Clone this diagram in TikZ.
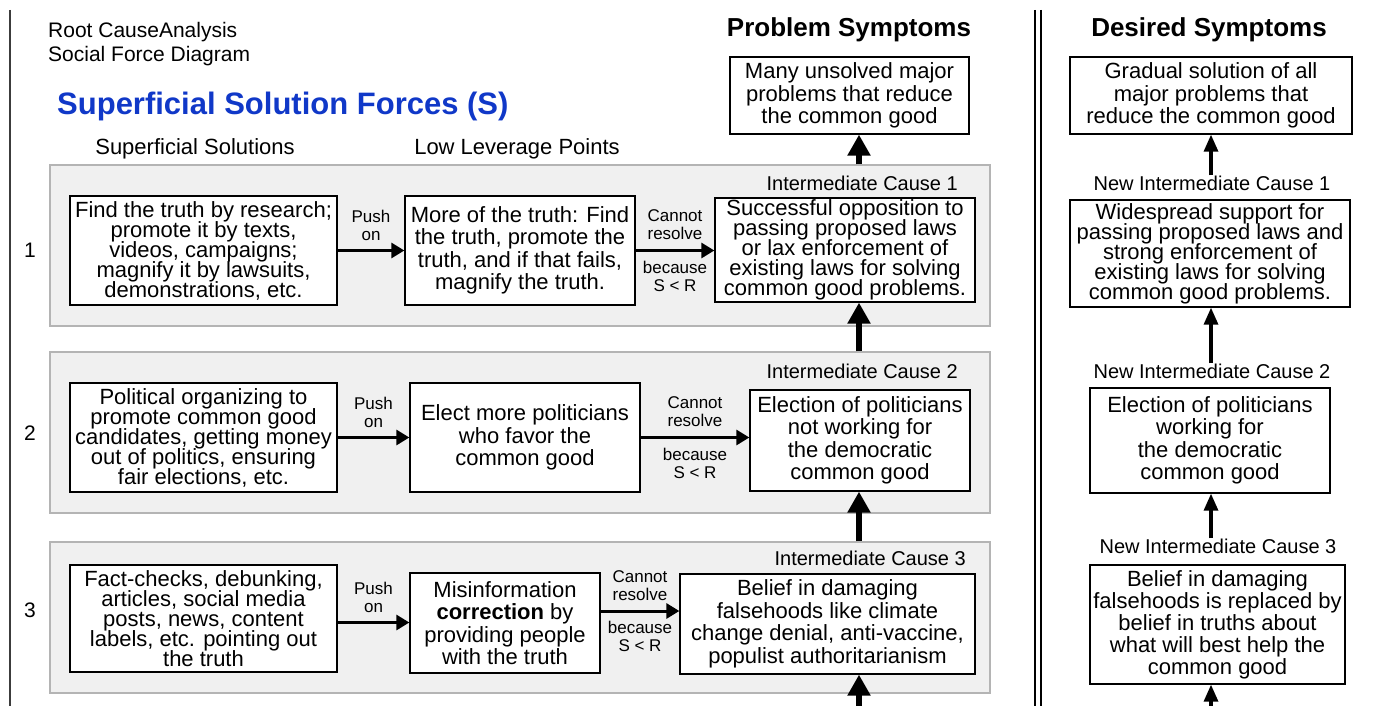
\documentclass[tikz,border=0pt]{standalone}
\usepackage{fontspec}
\setmainfont{Liberation Sans}
\usetikzlibrary{arrows.meta}
\definecolor{titleblue}{RGB}{16,56,200}
\definecolor{panelfill}{RGB}{240,240,240}
\definecolor{panelline}{RGB}{180,180,180}
\definecolor{rulegray}{RGB}{60,60,60}
\begin{document}
\lineskiplimit=-100pt
\begin{tikzpicture}[x=1pt,y=-1pt,
  box/.style={draw=black, line width=1.3pt, fill=white, align=center, inner sep=0pt,
    font=\fontsize{22}{20}\selectfont},
  airy/.style={box, font=\fontsize{22}{22.5}\selectfont},
  panel/.style={draw=panelline, line width=1.2pt, fill=panelfill, inner sep=0pt},
  lbl/.style={align=center, inner sep=1pt, font=\fontsize{17}{18}\selectfont},
  cause/.style={anchor=east, inner sep=0pt, font=\fontsize{20}{20}\selectfont},
  newcause/.style={inner sep=0pt, font=\fontsize{20}{20}\selectfont},
  rownum/.style={inner sep=0pt, font=\fontsize{21}{21}\selectfont},
  harrow/.style={line width=3pt, -{Triangle[length=13pt,width=15pt]}},
  karrow/.style={line width=6.5pt, -{Triangle[length=21pt,width=22pt]}},
  tarrow/.style={line width=3.2pt, -{Triangle[length=17pt,width=14pt]}},
]
\useasboundingbox (0,0) rectangle (1389,706);

% frame rules
\draw[rulegray, line width=2pt] (10,10) -- (10,706);
\draw[black, line width=2pt] (1035,10) -- (1035,706);
\draw[black, line width=2pt] (1041,10) -- (1041,706);

% headings
\node[anchor=west, inner sep=0pt, font=\fontsize{21}{21}\selectfont] (hd1) at (48,32.5) {Root CauseAnalysis};
\node[anchor=west, inner sep=0pt, font=\fontsize{21}{21}\selectfont] (hd2) at (48,56.5) {Social Force Diagram};
\node[anchor=west, inner sep=0pt, text=titleblue, font=\fontsize{31}{31}\selectfont\bfseries] (title) at (57,106) {Superficial Solution Forces (S)};
\node[inner sep=0pt, font=\fontsize{22}{22}\selectfont] (colss) at (195,149) {Superficial Solutions};
\node[inner sep=0pt, font=\fontsize{22}{22}\selectfont] (colll) at (517,149) {Low Leverage Points};
\node[inner sep=0pt, font=\fontsize{26}{26}\selectfont\bfseries] (colps) at (849,30) {Problem Symptoms};
\node[inner sep=0pt, font=\fontsize{26}{26}\selectfont\bfseries] (colds) at (1209,30) {Desired Symptoms};

% panels
\node[panel, minimum width=940pt, minimum height=161pt] (p1) at (520,245.5) {};
\node[panel, minimum width=940pt, minimum height=161pt] (p2) at (520,432.5) {};
\node[panel, minimum width=940pt, minimum height=151pt] (p3) at (520,617.5) {};

% row numbers
\node[rownum] (n1) at (30,250) {1};
\node[rownum] (n2) at (30,433) {2};
\node[rownum] (n3) at (30,610) {3};

% symptom boxes
\node[airy, minimum width=239pt, minimum height=77pt] (prob) at (849.5,95.5)
  {Many unsolved major\\problems that reduce\\the common good};
\node[airy, minimum width=282pt, minimum height=77pt] (des) at (1211,95.5)
  {Gradual solution of all\\major problems that\\reduce the common good};

% row 1
\node[box, minimum width=267pt, minimum height=109pt] (s1) at (203.5,250.5)
  {Find the truth by research;\\promote it by texts,\\videos, campaigns;\\magnify it by lawsuits,\\demonstrations, etc.};
\node[airy, minimum width=230pt, minimum height=109pt] (l1) at (520,250.5)
  {More of the truth: Find\\the truth, promote the\\truth, and if that fails,\\magnify the truth.};
\node[cause] (c1) at (958,183) {Intermediate Cause 1};
\node[box, minimum width=260pt, minimum height=104pt] (ic1) at (845,250)
  {Successful opposition to\\passing proposed laws\\or lax enforcement of\\existing laws for solving\\common good problems.};

% row 2
\node[box, minimum width=267pt, minimum height=109pt] (s2) at (203.5,437.5)
  {Political organizing to\\promote common good\\candidates, getting money\\out of politics, ensuring\\fair elections, etc.};
\node[airy, minimum width=230pt, minimum height=109pt] (l2) at (525,437.5)
  {Elect more politicians\\who favor the\\common good};
\node[cause] (c2) at (958,371) {Intermediate Cause 2};
\node[airy, minimum width=220pt, minimum height=101pt] (ic2) at (860,440.5)
  {Election of politicians\\not working for\\the democratic\\common good};

% row 3
\node[box, minimum width=267pt, minimum height=107pt] (s3) at (203.5,618.5)
  {Fact-checks, debunking,\\articles, social media\\posts, news, content\\labels, etc. pointing out\\the truth};
\node[airy, minimum width=190pt, minimum height=100pt] (l3) at (505,623)
  {Misinformation\\\textbf{correction} by\\providing people\\with the truth};
\node[cause] (c3) at (966,558) {Intermediate Cause 3};
\node[airy, minimum width=295pt, minimum height=100pt] (ic3) at (827.5,624)
  {Belief in damaging\\falsehoods like climate\\change denial, anti-vaccine,\\populist authoritarianism};

% desired column
\node[newcause] (nc1) at (1212,183) {New Intermediate Cause 1};
\node[box, minimum width=280pt, minimum height=107pt] (nic1) at (1210,253.5)
  {Widespread support for\\passing proposed laws and\\strong enforcement of\\existing laws for solving\\common good problems.};
\node[newcause] (nc2) at (1212,371) {New Intermediate Cause 2};
\node[airy, minimum width=240pt, minimum height=105pt] (nic2) at (1210,440.5)
  {Election of politicians\\working for\\the democratic\\common good};
\node[newcause] (nc3) at (1218,546) {New Intermediate Cause 3};
\node[box, font=\fontsize{22}{22}\selectfont, minimum width=255pt, minimum height=119pt] (nic3) at (1217.5,624.5)
  {Belief in damaging\\falsehoods is replaced by\\belief in truths about\\what will best help the\\common good};

% horizontal force arrows
\coordinate (r3a) at ([yshift=-4pt]s3.east);
\coordinate (r3b) at ([yshift=12pt]l3.east);
\draw[harrow] (s1.east) -- (l1.west)
  node[lbl, midway, above=7pt] {Push\\on};
\draw[harrow] (l1.east) -- (ic1.west |- l1.east)
  node[lbl, midway, above=8pt] {Cannot\\resolve}
  node[lbl, midway, below=8pt] {because\\S < R};
\draw[harrow] (s2.east) -- (l2.west)
  node[lbl, midway, above=7pt] {Push\\on};
\draw[harrow] (l2.east) -- (ic2.west |- l2.east)
  node[lbl, midway, above=8pt] {Cannot\\resolve}
  node[lbl, midway, below=8pt] {because\\S < R};
\draw[harrow] (r3a) -- (l3.west |- r3a)
  node[lbl, midway, above=7pt] {Push\\on};
\draw[harrow] (r3b) -- (ic3.west |- r3b)
  node[lbl, midway, above=8pt] {Cannot\\resolve}
  node[lbl, midway, below=8pt] {because\\S < R};

% vertical causal arrows (problem side)
\coordinate (col) at (859,0);
\coordinate (base) at (859,706);
\draw[karrow] (col |- p1.north) -- (col |- prob.south);
\draw[karrow] (col |- p2.north) -- (col |- ic1.south);
\draw[karrow] (col |- p3.north) -- (col |- ic2.south);
\draw[karrow] (base) -- (col |- ic3.south);

% vertical causal arrows (desired side)
\coordinate (dcol) at (1211,0);
\coordinate (dbase) at (1211,706);
\draw[tarrow] (dcol |- nc1.north) -- (dcol |- des.south);
\draw[tarrow] (dcol |- nc2.north) -- (dcol |- nic1.south);
\draw[tarrow] (dcol |- nc3.north) -- (dcol |- nic2.south);
\draw[tarrow] (dbase) -- (dcol |- nic3.south);
\end{tikzpicture}
\end{document}
